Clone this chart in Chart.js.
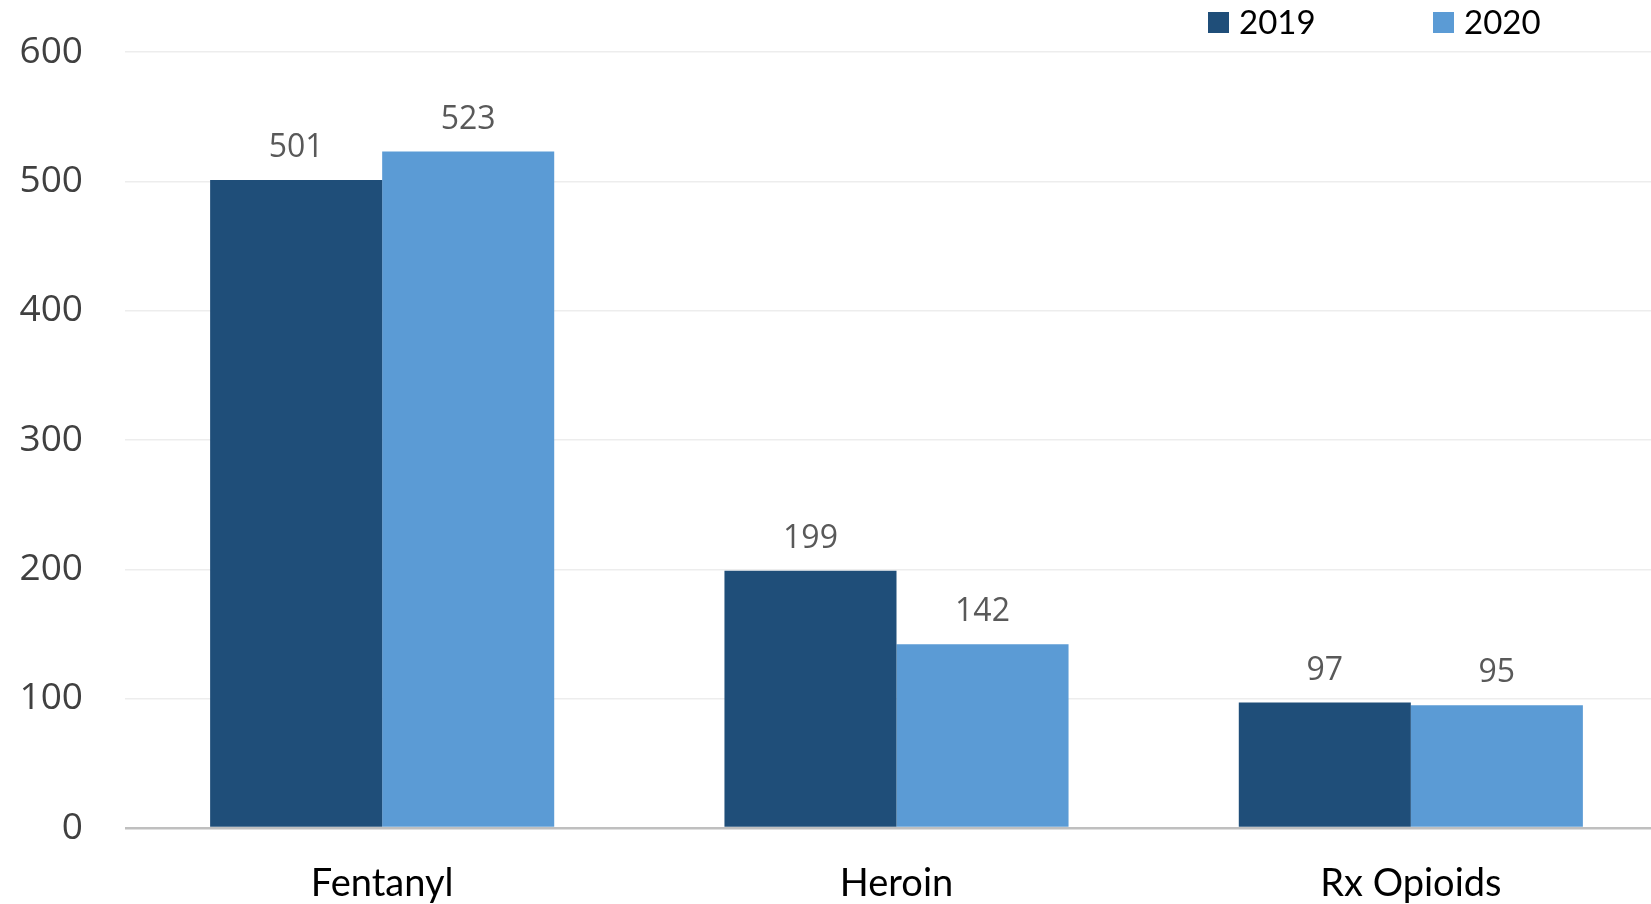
<!DOCTYPE html>
<html>
<head>
<meta charset="utf-8">
<script src="https://cdn.jsdelivr.net/npm/chart.js@4"></script>
<style>
  html, body { margin: 0; padding: 0; background: #fff; overflow: hidden; }
  #wrap { width: 1651px; height: 904px; overflow: hidden; }
</style>
</head>
<body>
<div id="wrap"><canvas id="myChart" width="1680" height="904"></canvas></div>
<script>
const categories = ["Fentanyl", "Heroin", "Rx Opioids"];
const years = ["2019", "2020"];
const values2019 = [501, 199, 97];
const values2020 = [523, 142, 95];
const yTicks = [0, 100, 200, 300, 400, 500, 600];

const dark = "#1F4E79";
const light = "#5B9BD5";

// value labels above each bar
const barLabels = {
  id: "barLabels",
  afterDatasetsDraw(chart) {
    const c = chart.ctx;
    c.save();
    c.font = "32px 'Open Sans'";
    c.fillStyle = "#595959";
    c.textAlign = "center";
    c.textBaseline = "alphabetic";
    chart.data.datasets.forEach((ds, i) => {
      chart.getDatasetMeta(i).data.forEach((bar, j) => {
        c.fillText(String(ds.data[j]), bar.x, bar.y - 23);
      });
    });
    c.restore();
  },
};

// legend in the top right corner
const legendBoxes = {
  id: "legendBoxes",
  afterDraw(chart) {
    const c = chart.ctx;
    const spots = [1208, 1433];
    c.save();
    c.font = "33px Lato";
    c.textBaseline = "alphabetic";
    c.textAlign = "left";
    chart.data.datasets.forEach((ds, i) => {
      const x = spots[i];
      c.fillStyle = ds.backgroundColor;
      c.fillRect(x, 12, 21, 21);
      c.fillStyle = "#000";
      c.fillText(ds.label, x + 31, 34);
    });
    c.restore();
  },
};

let ctx = document.getElementById("myChart").getContext("2d");

Promise.all([
  document.fonts.load("32px 'Open Sans'"),
  document.fonts.load("37px 'Open Sans'"),
  document.fonts.load("38px Lato"),
]).finally(() => {
  new Chart(ctx, {
    type: "bar",
    data: {
      labels: categories,
      datasets: [
        { label: years[0], data: values2019, backgroundColor: dark },
        { label: years[1], data: values2020, backgroundColor: light },
      ],
    },
    options: {
      responsive: false,
      animation: false,
      layout: { padding: { top: 52, right: 12, left: 0, bottom: 0 } },
      datasets: {
        bar: { categoryPercentage: 0.669, barPercentage: 1.0 },
      },
      plugins: {
        legend: { display: false },
        tooltip: { enabled: false },
      },
      scales: {
        x: {
          grid: { display: false, drawTicks: false },
          border: { display: false },
          ticks: {
            color: "#000",
            font: { family: "Lato", size: 38 },
            padding: 33,
          },
          afterFit(scale) {
            scale.height = 76;
            scale.paddingLeft = 0;
            scale.paddingRight = 0;
          },
        },
        y: {
          min: 0,
          max: 600,
          afterBuildTicks(scale) {
            scale.ticks = yTicks.map((v) => ({ value: v }));
          },
          grid: {
            drawTicks: false,
            color: (c) => (c.tick && c.tick.value === 0 ? "#bfbfbf" : "#ededed"),
            lineWidth: (c) => (c.tick && c.tick.value === 0 ? 2.5 : 1.5),
          },
          border: { display: false },
          ticks: {
            color: "#404040",
            font: { family: "Open Sans", size: 37 },
            padding: 42,
          },
          afterFit(scale) {
            scale.width = 125;
            scale.paddingTop = 0;
            scale.paddingBottom = 0;
          },
        },
      },
    },
    plugins: [barLabels, legendBoxes],
  });
});
</script>
</body>
</html>
